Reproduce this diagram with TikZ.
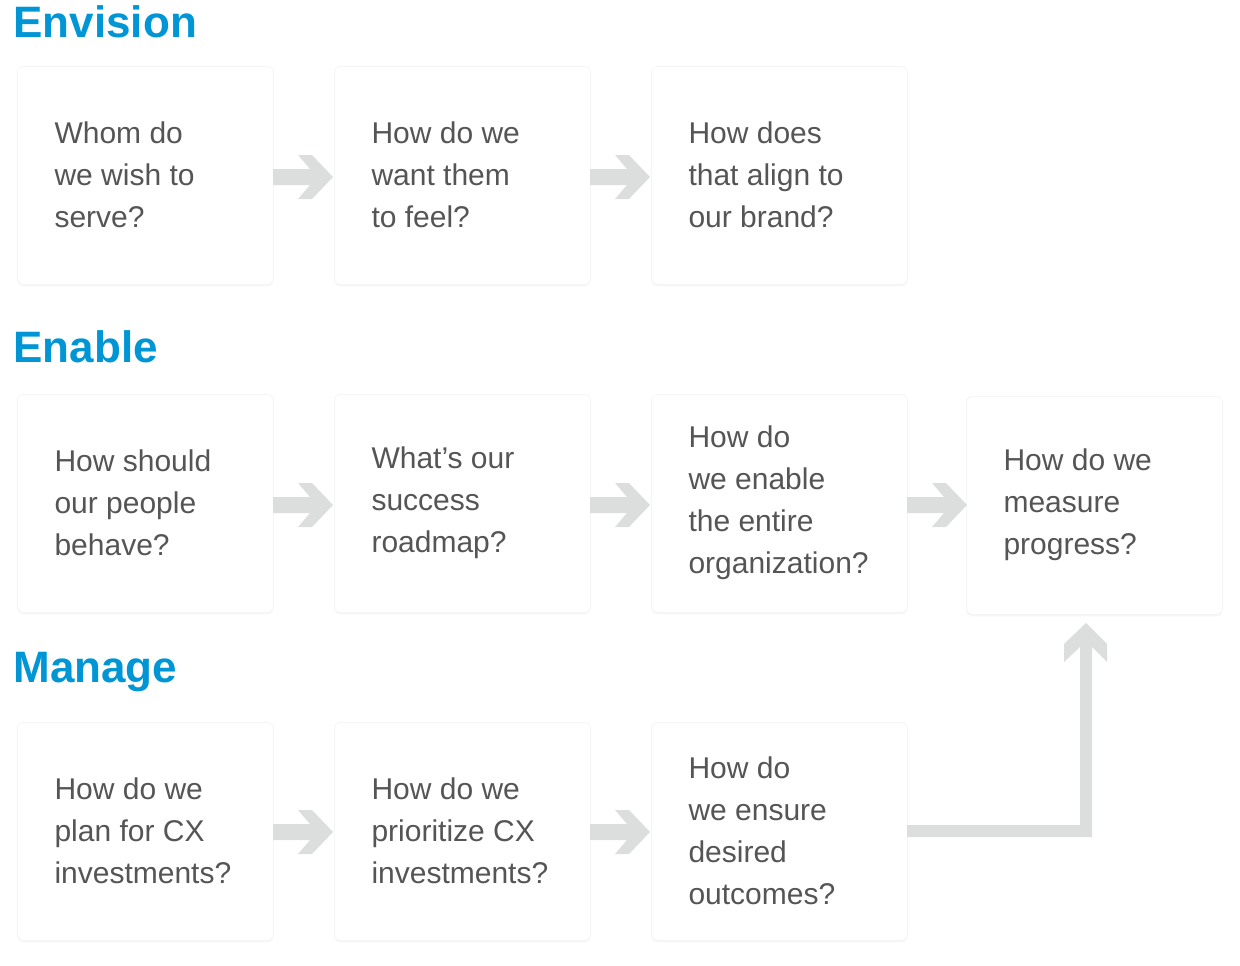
\documentclass[tikz,border=0pt]{standalone}
\usepackage{fontspec}
\setmainfont{Liberation Sans}
\usetikzlibrary{shadows}
\definecolor{hblue}{HTML}{0096D6}
\definecolor{tgray}{HTML}{555555}
\definecolor{agray}{HTML}{DCDDDD}
\tikzset{
  qbox/.style={draw=black!4, line width=0.8pt, fill=white, rounded corners=6pt,
    minimum width=256pt, minimum height=218pt, anchor=north west,
    drop shadow={opacity=0.07, shadow xshift=0pt, shadow yshift=-2pt}},
  qtext/.style={anchor=west, align=left, text=tgray, font=\fontsize{30}{42}\selectfont},
  head/.style={anchor=west, text=hblue, font=\fontsize{44}{50}\selectfont\bfseries}
}
\newcommand{\harrow}[2]{% x of box right edge, center y
  \fill[agray] (#1,#2-8) -- ++(37,0) -- ++(-12,-14) -- ++(14,0) -- ++(21,22) -- ++(-21,22) -- ++(-14,0) -- ++(12,-14) -- ++(-37,0) -- cycle;}
\begin{document}
\begin{tikzpicture}[x=1pt,y=-1pt]
\useasboundingbox (0,0) rectangle (1240,966);
\node[head] (h1) at (10,22) {Envision};
\node[head] (h2) at (10,347) {Enable};
\node[head] (h3) at (10,672) {Manage};
% row 1
\node[qbox] (b11) at (17,66) {};
\node[qbox] (b12) at (334,66) {};
\node[qbox] (b13) at (651,66) {};
\node[qtext] at (51,175) {Whom do\\we wish to\\serve?};
\node[qtext] at (368,175) {How do we\\want them\\to feel?};
\node[qtext] at (685,175) {How does\\that align to\\our brand?};
% row 2
\node[qbox] (b21) at (17,394) {};
\node[qbox] (b22) at (334,394) {};
\node[qbox] (b23) at (651,394) {};
\node[qbox] (b24) at (966,396) {};
\node[qtext] at (51,503) {How should\\our people\\behave?};
\node[qtext] at (368,503) {What’s our\\success\\roadmap?};
\node[qtext] at (685,503) {How do\\we enable\\the entire\\organization?};
\node[qtext] at (1000,505) {How do we\\measure\\progress?};
% row 3
\node[qbox] (b31) at (17,722) {};
\node[qbox] (b32) at (334,722) {};
\node[qbox] (b33) at (651,722) {};
\node[qtext] at (51,831) {How do we\\plan for CX\\investments?};
\node[qtext] at (368,831) {How do we\\prioritize CX\\investments?};
\node[qtext] at (685,831) {How do\\we ensure\\desired\\outcomes?};
% arrows
\harrow{273}{177}\harrow{590}{177}
\harrow{273}{505}\harrow{590}{505}\harrow{907}{505}
\harrow{273}{832}\harrow{590}{832}
\fill[agray] (907,825) -- (1080,825) -- (1080,647) -- (1064,662) -- (1064,644) -- (1086,623)
  -- (1107,644) -- (1107,662) -- (1092,647) -- (1092,837) -- (907,837) -- cycle;
\end{tikzpicture}
\end{document}
